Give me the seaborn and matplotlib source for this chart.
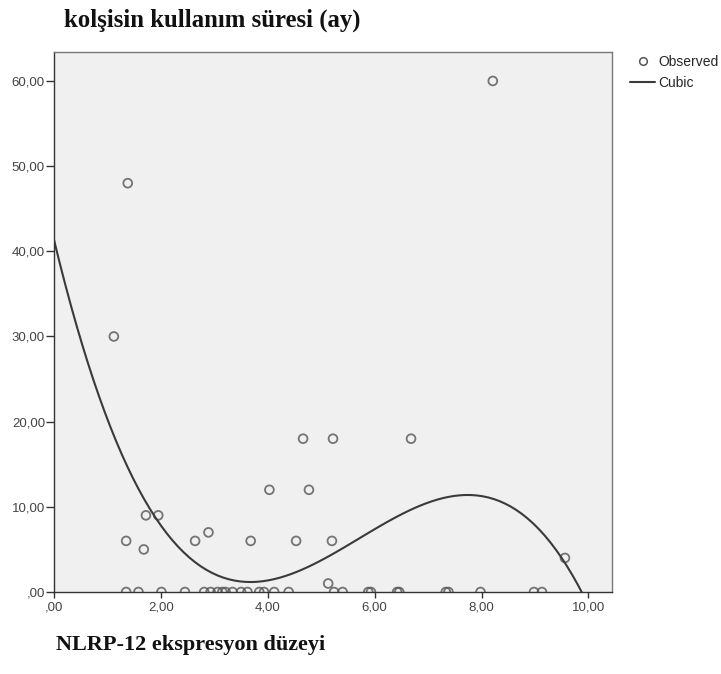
import matplotlib
matplotlib.use("Agg")
import matplotlib.pyplot as plt
from matplotlib.ticker import FuncFormatter
from matplotlib.lines import Line2D
import seaborn as sns
import numpy as np
import pandas as pd

# Observed points (NLRP-12 expression level, colchicine use duration in months)
x_nonzero = [1.12, 1.38, 8.21, 9.56, 4.66, 5.22, 6.68, 4.03, 4.77, 1.72, 1.95,
             2.89, 1.35, 2.64, 3.68, 4.53, 5.20, 1.68, 5.13]
y_nonzero = [30, 48, 60, 4, 18, 18, 18, 12, 12, 9, 9,
             7, 6, 6, 6, 6, 6, 5, 1]
x_zero = [1.35, 1.58, 2.01, 2.45, 2.81, 2.93, 3.06, 3.15, 3.21, 3.34, 3.50,
          3.62, 3.84, 3.93, 4.12, 4.39, 5.24, 5.40, 5.88, 5.93, 6.42, 6.46,
          7.33, 7.38, 7.98, 8.98, 9.13]
y_zero = [0] * len(x_zero)

x_vals = x_nonzero + x_zero
y_vals = y_nonzero + y_zero

x_ticks = [0, 2, 4, 6, 8, 10]
y_ticks = [0, 10, 20, 30, 40, 50, 60]

title_text = "kolşisin kullanım süresi (ay)"
xlabel_text = "NLRP-12 ekspresyon düzeyi"
legend_labels = ["Observed", "Cubic"]

df = pd.DataFrame({"x": x_vals, "y": y_vals})

sns.set_theme(style="white")
plt.rcParams["font.family"] = ["Liberation Sans", "DejaVu Sans"]

fig = plt.figure(figsize=(7.21, 6.74), dpi=100)
ax = fig.add_axes([54 / 721, 1 - 592 / 674, (612 - 54) / 721, (592 - 52) / 674])
ax.set_facecolor("#f0f0f0")
ax.set_xlim(0, 10.44)
ax.set_ylim(0, 63.4)

sns.regplot(data=df, x="x", y="y", order=3, ci=None, truncate=False, ax=ax,
            scatter_kws=dict(s=40, facecolors="none", edgecolors="#555555",
                             linewidths=1.3, clip_on=True),
            line_kws=dict(color="#3a3a3a", linewidth=1.5))

ax.set_xlim(0, 10.44)
ax.set_ylim(0, 63.4)
ax.set_xticks(x_ticks)
ax.set_yticks(y_ticks)

def fmt(v, pos):
    s = f"{v:.2f}".replace(".", ",")
    if s.startswith("0,"):
        s = s[1:]
    return s

ax.xaxis.set_major_formatter(FuncFormatter(fmt))
ax.yaxis.set_major_formatter(FuncFormatter(fmt))
ax.tick_params(axis="both", which="major", labelsize=9.5, labelcolor="#444444",
               color="#333333", width=1, direction="out", bottom=True, left=True)
ax.tick_params(axis="x", length=4.5, pad=2)
ax.tick_params(axis="y", length=6, pad=0.5)
for side, sp in ax.spines.items():
    sp.set_color("#7a7a7a")
    sp.set_linewidth(1.0)
ax.spines["bottom"].set_color("#333333")
ax.spines["left"].set_color("#333333")
ax.set_xlabel("")
ax.set_ylabel("")

fig.text(64 / 721, 1 - 27 / 674, title_text, fontsize=17.8, fontweight="bold",
         family=["Liberation Serif", "DejaVu Serif"], va="baseline", ha="left",
         color="#111111")
fig.text(56 / 721, 1 - 650 / 674, xlabel_text, fontsize=16, fontweight="bold",
         family=["Liberation Serif", "DejaVu Serif"], va="baseline", ha="left",
         color="#111111")

handles = [Line2D([], [], marker="o", linestyle="none", markerfacecolor="none",
                  markeredgecolor="#555555", markersize=5.5, markeredgewidth=1.1),
           Line2D([], [], color="#3a3a3a", linewidth=1.5)]
fig.legend(handles, legend_labels, loc="upper left",
           bbox_to_anchor=(630 / 721, 1 - 55 / 674), frameon=False,
           fontsize=10, handlelength=1.8, handletextpad=0.22, labelspacing=0.5,
           borderpad=0, borderaxespad=0)

fig.savefig("out.png", dpi=100)
